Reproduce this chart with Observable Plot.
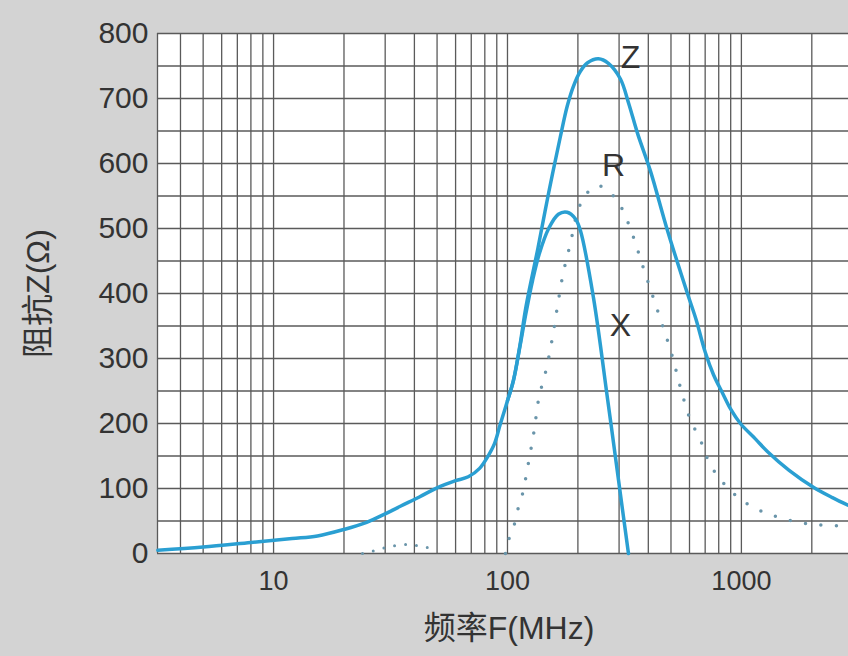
<!DOCTYPE html>
<html>
<head>
<meta charset="utf-8">
<script src="https://cdn.jsdelivr.net/npm/d3@7"></script>
<script src="https://cdn.jsdelivr.net/npm/@observablehq/plot@0.6"></script>
<style>
  html, body { margin: 0; padding: 0; background: #d3d3d3; }
  #chart { width: 848px; height: 656px; }
</style>
</head>
<body>
<div id="chart"></div>
<script>
// Impedance curves (frequency in MHz, impedance in Ω)
const zFreq = [3.2, 5, 8, 12, 15.4, 20, 25, 30, 35, 42, 50, 60, 68, 76, 82, 88, 93, 100, 106, 113, 120, 135, 150, 168, 180, 191, 205, 220, 245, 270, 304, 330, 360, 408, 483, 588, 640, 700, 760, 830, 900, 990, 1150, 1291, 1600, 2031, 2450, 2870];
const zVal  = [5, 10, 17, 23, 27, 37, 48, 61, 73, 87, 101, 112, 118, 131, 148, 169, 198, 235, 266, 320, 380, 470, 555, 640, 688, 718, 742, 755, 761, 754, 730, 692, 646, 589, 497, 400, 360, 310, 275, 247, 222, 200, 176, 157, 128, 102, 86, 74];

const xFreq = [100, 106, 113, 120, 128, 137, 150, 165, 180, 195, 205, 233, 268, 304, 329];
const xVal  = [235, 266, 318, 370, 420, 462, 500, 522, 525, 515, 497, 394, 237, 91, 0];

const rFreq = [98, 101, 107, 111, 116, 123, 130, 136, 147, 156, 164, 173, 186, 199, 215, 242, 276, 304, 342, 378, 417, 460, 507, 549, 600, 643, 689, 723, 789, 880, 980, 1125, 1303, 1496, 1753, 2031, 2400, 2870];
const rVal  = [0, 20, 45, 69, 92, 140, 189, 238, 286, 334, 383, 431, 478, 525, 551, 566, 554, 535, 491, 443, 397, 351, 303, 255, 209, 186, 163, 142, 120, 100, 85, 71, 61, 54, 48, 45, 43, 43];

const rHumpFreq = [24, 26.7, 30.1, 33.2, 37.4, 41.2, 45.5, 50.2];
const rHumpVal  = [0, 4, 9, 12, 14, 12, 9, 3];

// Curve labels
const curveNames = ["Z", "R", "X"];
const labelFreq  = [336, 284, 304];
const labelVal   = [762, 597, 351];

// Axes
const xTicks = [10, 100, 1000];
const yTicks = [0, 100, 200, 300, 400, 500, 600, 700, 800];
const xGrid = [4, 5, 6, 7, 8, 9, 10, 20, 30, 40, 50, 60, 70, 80, 90, 100, 200, 300, 400, 500, 600, 700, 800, 900, 1000, 2000];
const yGrid = [0, 50, 100, 150, 200, 250, 300, 350, 400, 450, 500, 550, 600, 650, 700, 750, 800];
const xTitle = "频率F(MHz)";
const yTitle = "阻抗Z(Ω)";

const toRows = (fs, vs) => fs.map((f, i) => ({f, v: vs[i]}));
const zData = toRows(zFreq, zVal);
const xData = toRows(xFreq, xVal);
const rData = toRows(rFreq, rVal);
const rHump = toRows(rHumpFreq, rHumpVal);
const labels = curveNames.map((n, i) => ({n, f: labelFreq[i], v: labelVal[i]}));

const font = "'Liberation Sans', Arial, 'Noto Sans CJK SC', sans-serif";
const blue = "#2a9fd2";
const dotColor = "#6a95aa";
const gridColor = "#5a5a5a";
const textColor = "#333333";

const chart = Plot.plot({
  width: 848,
  height: 656,
  marginLeft: 157,
  marginRight: 0,
  marginTop: 33,
  marginBottom: 103,
  style: {background: "#d3d3d3", fontFamily: font, overflow: "visible"},
  x: {type: "log", domain: [3.19, 2870]},
  y: {domain: [0, 800]},
  marks: [
    Plot.frame({fill: "white", stroke: null}),
    Plot.ruleX(xGrid, {stroke: gridColor, strokeWidth: 1.3}),
    Plot.ruleY(yGrid, {stroke: gridColor, strokeWidth: 1.3}),
    Plot.ruleX([3.19], {stroke: gridColor, strokeWidth: 1.3}),
    Plot.axisY({ticks: yTicks, tickSize: 0, tickPadding: 9, fontSize: 30, fill: textColor, label: null}),
    Plot.axisX({ticks: xTicks, tickFormat: d => String(d), tickSize: 0, tickPadding: 17, fontSize: 27, fill: textColor, label: null}),
    Plot.line(rHump, {x: "f", y: "v", curve: "catmull-rom", stroke: dotColor, strokeWidth: 3, strokeDasharray: "0 11", strokeLinecap: "round"}),
    Plot.line(rData, {x: "f", y: "v", curve: "catmull-rom", stroke: dotColor, strokeWidth: 3.5, strokeDasharray: "0 15.5", strokeLinecap: "round"}),
    Plot.line(zData, {x: "f", y: "v", curve: "catmull-rom", stroke: blue, strokeWidth: 3.5}),
    Plot.line(xData, {x: "f", y: "v", curve: "catmull-rom", stroke: blue, strokeWidth: 3.5}),
    Plot.text(labels, {x: "f", y: "v", text: "n", fontSize: 32, fill: textColor}),
    Plot.text([yTitle], {frameAnchor: "left", textAnchor: "middle", lineAnchor: "middle", dx: -119, rotate: -90, fontSize: 32, fill: textColor}),
    Plot.text([xTitle], {frameAnchor: "bottom", textAnchor: "middle", lineAnchor: "middle", dx: 6, dy: 75, fontSize: 32, fill: textColor})
  ]
});
document.getElementById("chart").appendChild(chart);
</script>
</body>
</html>
